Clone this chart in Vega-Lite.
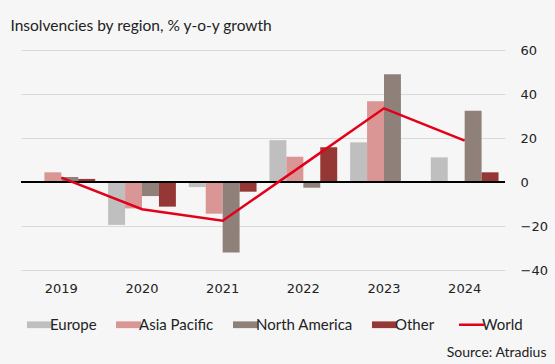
{
  "$schema": "https://vega.github.io/schema/vega-lite/v6.json",
  "width": 484,
  "height": 220,
  "autosize": {"type": "none"},
  "padding": {"left": 21, "top": 50, "right": 50, "bottom": 94},
  "background": "#f6f6f6",
  "title": {
    "text": "Insolvencies by region, % y-o-y growth",
    "anchor": "start",
    "frame": "group",
    "font": "Lato",
    "fontSize": 15.5,
    "fontWeight": "normal",
    "color": "#222222",
    "baseline": "alphabetic",
    "offset": 22,
    "dx": -10.5,
    "dy": 24
  },
  "data": {
    "values": [
      {"year": "2019", "series": "Asia Pacific", "value": 4.4},
      {"year": "2019", "series": "North America", "value": 2.3},
      {"year": "2019", "series": "Other", "value": 1.4},
      {"year": "2019", "series": "World", "value": 2.0},
      {"year": "2020", "series": "Europe", "value": -19.5},
      {"year": "2020", "series": "Asia Pacific", "value": -12.0},
      {"year": "2020", "series": "North America", "value": -6.4},
      {"year": "2020", "series": "Other", "value": -11.2},
      {"year": "2020", "series": "World", "value": -12.4},
      {"year": "2021", "series": "Europe", "value": -2.3},
      {"year": "2021", "series": "Asia Pacific", "value": -14.4},
      {"year": "2021", "series": "North America", "value": -32.0},
      {"year": "2021", "series": "Other", "value": -4.4},
      {"year": "2021", "series": "World", "value": -17.6},
      {"year": "2022", "series": "Europe", "value": 19.0},
      {"year": "2022", "series": "Asia Pacific", "value": 11.5},
      {"year": "2022", "series": "North America", "value": -2.6},
      {"year": "2022", "series": "Other", "value": 15.8},
      {"year": "2022", "series": "World", "value": 7.9},
      {"year": "2023", "series": "Europe", "value": 18.0},
      {"year": "2023", "series": "Asia Pacific", "value": 36.7},
      {"year": "2023", "series": "North America", "value": 49.0},
      {"year": "2023", "series": "World", "value": 33.5},
      {"year": "2024", "series": "Europe", "value": 11.2},
      {"year": "2024", "series": "North America", "value": 32.4},
      {"year": "2024", "series": "Other", "value": 4.4},
      {"year": "2024", "series": "World", "value": 18.8}
    ]
  },
  "encoding": {
    "x": {
      "field": "year",
      "type": "nominal",
      "scale": {"paddingInner": 0.16, "paddingOuter": 0.08},
      "axis": {
        "orient": "bottom",
        "labelAngle": 0,
        "domain": false,
        "ticks": false,
        "grid": false,
        "labelFont": "DejaVu Sans",
        "labelFontSize": 13,
        "labelColor": "#222222",
        "labelPadding": 12,
        "title": "Source: Atradius",
        "titleFont": "Lato",
        "titleFontSize": 14,
        "titleFontWeight": "normal",
        "titleColor": "#222222",
        "titleAlign": "right",
        "titleAnchor": "end",
        "titleBaseline": "alphabetic",
        "titleX": 525,
        "titleY": 86
      }
    },
    "y": {
      "field": "value",
      "type": "quantitative",
      "scale": {"domain": [-40, 60], "nice": false},
      "axis": {
        "orient": "right",
        "values": [-40, -20, 0, 20, 40, 60],
        "domain": false,
        "ticks": false,
        "grid": true,
        "gridColor": "#d9d9d9",
        "gridWidth": 1,
        "labelAlign": "left",
        "labelPadding": 15,
        "labelFont": "DejaVu Sans",
        "labelFontSize": 13,
        "labelColor": "#222222",
        "title": null
      }
    },
    "color": {
      "field": "series",
      "type": "nominal",
      "scale": {
        "domain": ["Europe", "Asia Pacific", "North America", "Other", "World"],
        "range": ["#bfbfbf", "#d99694", "#8f817a", "#953735", "#e2001a"]
      },
      "legend": {
        "title": null,
        "orient": "none",
        "direction": "horizontal",
        "legendX": 11,
        "legendY": 267,
        "padding": 0,
        "columnPadding": 19,
        "labelOffset": 3,
        "labelFont": "Lato",
        "labelFontSize": 15,
        "labelColor": "#222222",
        "symbolSize": 625,
        "symbolType": "M-1,-0.27H1V0.27H-1Z",
        "symbolOpacity": 1,
        "encode": {
          "symbols": {
            "update": {
              "shape": {"signal": "datum.value === 'World' ? 'stroke' : 'M-1,-0.27H1V0.27H-1Z'"},
              "fill": {"signal": "datum.value === 'World' ? 'transparent' : scale('color', datum.value)"},
              "stroke": {"signal": "datum.value === 'World' ? scale('color', datum.value) : 'transparent'"},
              "strokeWidth": {"signal": "datum.value === 'World' ? 2.5 : 0"}
            }
          }
        }
      }
    }
  },
  "layer": [
    {
      "transform": [{"filter": "datum.series !== 'World'"}],
      "mark": {"type": "bar", "opacity": 1},
      "encoding": {
        "xOffset": {
          "field": "series",
          "type": "nominal",
          "scale": {"domain": ["Europe", "Asia Pacific", "North America", "Other"], "paddingInner": 0, "paddingOuter": 0}
        }
      }
    },
    {
      "mark": {"type": "rule", "color": "#000000", "strokeWidth": 1},
      "encoding": {
        "x": {"value": 0},
        "x2": {"value": 484},
        "y": {"datum": 0},
        "color": {"value": "#000000"}
      }
    },
    {
      "transform": [{"filter": "datum.series === 'World'"}],
      "mark": {"type": "line", "strokeWidth": 2.5},
      "encoding": {}
    }
  ],
  "config": {
    "view": {"stroke": null}
  }
}
